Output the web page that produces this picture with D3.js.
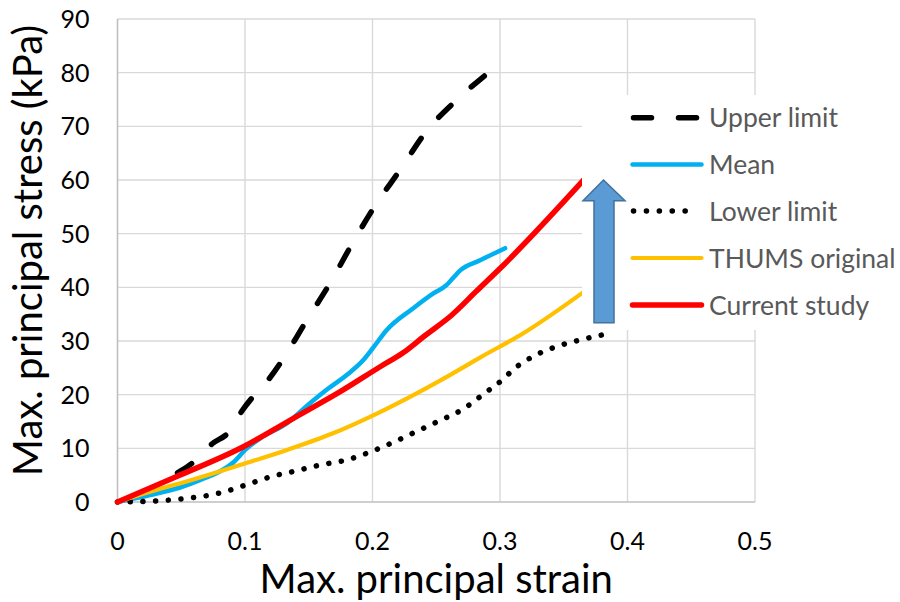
<!DOCTYPE html>
<html>
<head>
<meta charset="utf-8">
<script src="https://cdn.jsdelivr.net/npm/d3@7"></script>
<style>
  body { margin: 0; background: #fff; }
  svg { display: block; font-family: Lato, "Open Sans", sans-serif; }
</style>
</head>
<body>
<div id="chart"></div>
<script>
// --- Data ---
const xTicks = [0, 0.1, 0.2, 0.3, 0.4, 0.5];
const yTicks = [0, 10, 20, 30, 40, 50, 60, 70, 80, 90];

const upperStrain = [0, 0.025, 0.047, 0.061, 0.074, 0.088, 0.098, 0.108, 0.12, 0.13, 0.148, 0.167, 0.184, 0.202, 0.222, 0.242, 0.266, 0.293];
const upperStress = [0, 2.3, 5.4, 7.7, 10.8, 13.2, 17.1, 20.1, 23.3, 26.7, 33.7, 40.9, 48.1, 55.2, 62.0, 69.0, 74.9, 80.4];

const meanStrain = [0, 0.0255, 0.049, 0.065, 0.091, 0.101, 0.112, 0.133, 0.148, 0.164, 0.18, 0.193, 0.201, 0.211, 0.232, 0.248, 0.258, 0.263, 0.269, 0.284, 0.304];
const meanStress = [0, 1.3, 2.7, 4.1, 7.4, 9.9, 11.9, 14.7, 17.8, 20.9, 23.7, 26.5, 28.9, 32.0, 36.1, 38.9, 40.4, 41.7, 43.2, 45.0, 47.3];

const lowerStrain = [0, 0.0125, 0.0425, 0.062, 0.072, 0.082, 0.101, 0.12, 0.14, 0.159, 0.179, 0.198, 0.216, 0.235, 0.253, 0.271, 0.287, 0.303, 0.31, 0.3275, 0.346, 0.365, 0.385];
const lowerStress = [0, 0.06, 0.4, 0.9, 1.25, 1.8, 3.2, 4.7, 5.8, 6.9, 7.8, 9.3, 11.1, 13.2, 15.2, 17.3, 20.1, 23.0, 24.6, 27.3, 29.1, 30.3, 31.4];

const thumsStrain = [0, 0.0255, 0.062, 0.096, 0.133, 0.169, 0.201, 0.235, 0.261, 0.285, 0.318, 0.366];
const thumsStress = [0, 1.9, 4.4, 6.9, 9.7, 12.8, 16.2, 20.3, 23.7, 27.0, 31.4, 39.2];

const currentStrain = [0, 0.046, 0.0987, 0.138, 0.175, 0.206, 0.224, 0.24, 0.262, 0.282, 0.3, 0.366];
const currentStress = [0, 4.7, 10.3, 15.6, 20.6, 25.2, 27.8, 30.8, 34.8, 39.4, 43.5, 60.1];

const seriesNames = ["Upper limit", "Mean", "Lower limit", "THUMS original", "Current study"];

// --- Layout ---
const width = 900, height = 602;
const plot = { left: 117.5, right: 755, top: 19, bottom: 502 };

const svg = d3.select("#chart").append("svg")
    .attr("width", width)
    .attr("height", height);

const x = d3.scaleLinear().domain([0, 0.5]).range([plot.left, plot.right]);
const y = d3.scaleLinear().domain([0, 90]).range([plot.bottom, plot.top]);

// gridlines
svg.append("g")
    .attr("stroke", "#d9d9d9")
    .attr("stroke-width", 1.4)
    .selectAll("line.v")
    .data(xTicks.slice(1))
    .join("line")
    .attr("x1", d => x(d)).attr("x2", d => x(d))
    .attr("y1", plot.top).attr("y2", plot.bottom);

svg.append("g")
    .attr("stroke", "#d9d9d9")
    .attr("stroke-width", 1.4)
    .selectAll("line.h")
    .data(yTicks.slice(1))
    .join("line")
    .attr("x1", plot.left).attr("x2", plot.right)
    .attr("y1", d => y(d)).attr("y2", d => y(d));

// axis lines
svg.append("line")
    .attr("x1", plot.left).attr("x2", plot.left)
    .attr("y1", plot.top).attr("y2", plot.bottom)
    .attr("stroke", "#bfbfbf").attr("stroke-width", 1.6);
svg.append("line")
    .attr("x1", plot.left).attr("x2", plot.right)
    .attr("y1", plot.bottom).attr("y2", plot.bottom)
    .attr("stroke", "#bfbfbf").attr("stroke-width", 1.6);

// tick labels
svg.append("g")
    .selectAll("text")
    .data(yTicks)
    .join("text")
    .attr("x", 89.5)
    .attr("y", d => y(d))
    .attr("dy", "0.36em")
    .attr("text-anchor", "end")
    .attr("font-size", 25)
    .attr("fill", "#000")
    .text(d => d);

svg.append("g")
    .selectAll("text")
    .data(xTicks)
    .join("text")
    .attr("x", d => x(d))
    .attr("y", 550)
    .attr("text-anchor", "middle")
    .attr("font-size", 25)
    .attr("fill", "#000")
    .text(d => d3.format("~g")(d));

// axis titles
svg.append("text")
    .attr("x", (plot.left + plot.right) / 2)
    .attr("y", 593)
    .attr("text-anchor", "middle")
    .attr("font-size", 40)
    .attr("fill", "#000")
    .text("Max. principal strain");

svg.append("text")
    .attr("transform", `translate(42,${(plot.top + plot.bottom) / 2 - 10}) rotate(-90)`)
    .attr("text-anchor", "middle")
    .attr("font-size", 40)
    .attr("fill", "#000")
    .text("Max. principal stress (kPa)");

// series
const series = [
    { name: seriesNames[0], xs: upperStrain, ys: upperStress, color: "#000", w: 5.5, dash: "17,27.5" },
    { name: seriesNames[1], xs: meanStrain, ys: meanStress, color: "#00b0f0", w: 4.5, dash: null },
    { name: seriesNames[2], xs: lowerStrain, ys: lowerStress, color: "#000", w: 5.5, dash: "0.1,12.6" },
    { name: seriesNames[3], xs: thumsStrain, ys: thumsStress, color: "#ffc000", w: 4.2, dash: null },
    { name: seriesNames[4], xs: currentStrain, ys: currentStress, color: "#ff0000", w: 5.5, dash: null }
];

const line = d3.line()
    .x(d => x(d[0]))
    .y(d => y(d[1]))
    .curve(d3.curveMonotoneX);

svg.append("g")
    .attr("fill", "none")
    .attr("stroke-linecap", "round")
    .attr("stroke-linejoin", "round")
    .selectAll("path")
    .data(series)
    .join("path")
    .attr("d", s => line(s.xs.map((v, i) => [v, s.ys[i]])))
    .attr("stroke", s => s.color)
    .attr("stroke-width", s => s.w)
    .attr("stroke-dasharray", s => s.dash)
    .attr("stroke-dashoffset", s => s.name === "Upper limit" ? 22 : 0);

// legend box (covers plot underneath)
svg.append("rect")
    .attr("x", 582).attr("y", 95)
    .attr("width", width - 582).attr("height", 330 - 95)
    .attr("fill", "#fff");

const legendY = [117.7, 164.5, 211, 258, 305];
const legend = svg.append("g")
    .selectAll("g")
    .data(series)
    .join("g")
    .attr("transform", (d, i) => `translate(0,${legendY[i]})`);

legend.append("line")
    .attr("x1", d => d.dash ? 633.5 : 632.5)
    .attr("x2", d => d.dash ? 697.5 : 701.5)
    .attr("stroke", d => d.color)
    .attr("stroke-width", d => d.w)
    .attr("stroke-linecap", "round")
    .attr("stroke-dasharray", d => d.name === "Lower limit" ? "0.1,12.8" : (d.dash ? "18,27" : null));

legend.append("text")
    .attr("x", 709)
    .attr("dy", "0.36em")
    .attr("font-size", 26.5)
    .attr("fill", "#595959")
    .text(d => d.name);

// block arrow
const arrow = [[603.5, 180], [625, 200.7], [614, 200.7], [614, 322.7], [594, 322.7], [594, 200.7], [583, 200.7]];
svg.append("path")
    .attr("d", d3.line()(arrow) + "Z")
    .attr("fill", "#5b9bd5")
    .attr("stroke", "#41719c")
    .attr("stroke-width", 1.5);
</script>
</body>
</html>
